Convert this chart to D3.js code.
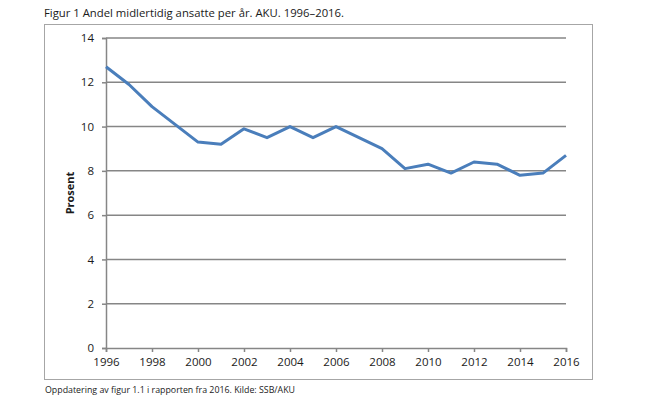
<!DOCTYPE html>
<html>
<head>
<meta charset="utf-8">
<script src="https://cdn.jsdelivr.net/npm/d3@7"></script>
<style>
  body { margin: 0; background: #fff; }
  svg { display: block; }
</style>
</head>
<body>
<svg width="654" height="399"></svg>
<script>
// andel midlertidig ansatte, prosent
const years = [1996, 1997, 1998, 1999, 2000, 2001, 2002, 2003, 2004, 2005, 2006,
  2007, 2008, 2009, 2010, 2011, 2012, 2013, 2014, 2015, 2016]
const values = [12.7, 11.9, 10.9, 10.1, 9.3, 9.2, 9.9, 9.5, 10.0, 9.5, 10.0,
  9.5, 9.0, 8.1, 8.3, 7.9, 8.4, 8.3, 7.8, 7.9, 8.7]
const xTicks = [1996, 1998, 2000, 2002, 2004, 2006, 2008, 2010, 2012, 2014, 2016]
const yTicks = [0, 2, 4, 6, 8, 10, 12, 14]

const title = "Figur 1 Andel midlertidig ansatte per år. AKU. 1996–2016."
const yLabel = "Prosent"
const source = "Oppdatering av figur 1.1 i rapporten fra 2016. Kilde: SSB/AKU"

const svg = d3.select("svg")
const font = "'Open Sans', sans-serif"

const plotLeft = 106, plotRight = 566, plotTop = 38, plotBottom = 348

const x = d3.scaleLinear().domain([1996, 2016]).range([plotLeft, plotRight])
const y = d3.scaleLinear().domain([0, 14]).range([plotBottom, plotTop])

svg.append("text")
  .attr("x", 44)
  .attr("y", 17)
  .attr("font-family", font)
  .attr("font-size", 11.2)
  .attr("textLength", 300)
  .attr("lengthAdjust", "spacingAndGlyphs")
  .attr("fill", "#1a1a1a")
  .text(title)

// chart frame
svg.append("rect")
  .attr("x", 44.5)
  .attr("y", 24.5)
  .attr("width", 548)
  .attr("height", 355)
  .attr("fill", "none")
  .attr("stroke", "#a6a6a6")
  .attr("stroke-width", 1)

// gridlines
svg.append("g")
  .selectAll("line")
  .data(yTicks.filter(d => d > 0))
  .join("line")
  .attr("x1", plotLeft)
  .attr("x2", plotRight)
  .attr("y1", d => y(d))
  .attr("y2", d => y(d))
  .attr("stroke", "#868686")
  .attr("stroke-width", 1.5)

const yAxis = svg.append("g")
  .attr("transform", `translate(${plotLeft},0)`)
  .call(d3.axisLeft(y).tickValues(yTicks).tickSize(4).tickPadding(8))
yAxis.select(".domain").attr("stroke", "#868686").attr("stroke-width", 1.5)
yAxis.selectAll(".tick line").attr("stroke", "#868686").attr("stroke-width", 1.5)
yAxis.selectAll("text")
  .attr("font-family", font)
  .attr("font-size", 11.5)
  .attr("fill", "#1a1a1a")

const xAxis = svg.append("g")
  .attr("transform", `translate(0,${plotBottom})`)
  .call(d3.axisBottom(x).tickValues(xTicks).tickFormat(d3.format("d")).tickSize(4).tickPadding(6))
xAxis.select(".domain").attr("stroke", "#868686").attr("stroke-width", 1.5)
xAxis.selectAll(".tick line").attr("stroke", "#868686").attr("stroke-width", 1.5)
xAxis.selectAll("text")
  .attr("font-family", font)
  .attr("font-size", 11.5)
  .attr("fill", "#1a1a1a")

svg.append("text")
  .attr("transform", `translate(74,${(plotTop + plotBottom) / 2}) rotate(-90)`)
  .attr("text-anchor", "middle")
  .attr("font-family", font)
  .attr("font-size", 11)
  .attr("font-weight", "bold")
  .attr("fill", "#1a1a1a")
  .text(yLabel)

const line = d3.line()
  .x((d, i) => x(years[i]))
  .y(d => y(d))

svg.append("path")
  .datum(values)
  .attr("d", line)
  .attr("fill", "none")
  .attr("stroke", "#4a7ebb")
  .attr("stroke-width", 3)
  .attr("stroke-linejoin", "round")

svg.append("text")
  .attr("x", 45)
  .attr("y", 393)
  .attr("font-family", font)
  .attr("font-size", 8.3)
  .attr("textLength", 250)
  .attr("lengthAdjust", "spacingAndGlyphs")
  .attr("fill", "#1a1a1a")
  .text(source)
</script>
</body>
</html>
